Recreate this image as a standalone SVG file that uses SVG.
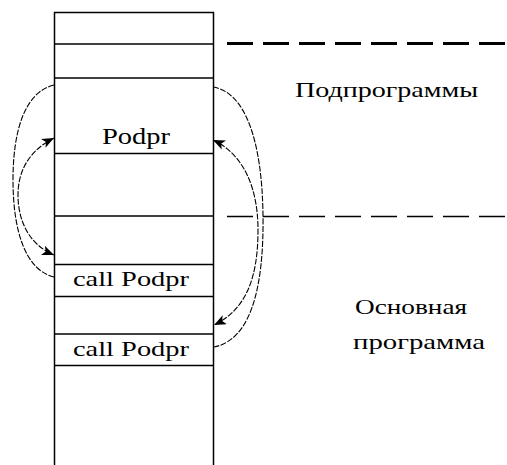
<svg xmlns="http://www.w3.org/2000/svg" width="507" height="465" viewBox="0 0 507 465">
<style>
.col{stroke:#000;stroke-width:1.5;fill:none}
.row{stroke:#000;stroke-width:1.5}
.t{font-family:'Liberation Serif','DejaVu Serif',serif;fill:#000}
.cur{fill:none;stroke:#000;stroke-width:1.1;stroke-dasharray:6 1.5}
.sep{fill:none;stroke:#000;stroke-dasharray:26 10}
</style>
<defs>
<marker id="ah" markerUnits="userSpaceOnUse" markerWidth="13" markerHeight="10" refX="12" refY="5" orient="auto-start-reverse">
<path d="M0,0 L12,5 L0,10 L3,5 z" fill="#000"/>
</marker>
</defs>
<g id="stack">
<path class="col" d="M54.5,465 V12.5 H213.5 V465"/>
<line class="row" x1="54" y1="44" x2="214" y2="44"/>
<line class="row" x1="54" y1="78" x2="214" y2="78"/>
<line class="row" x1="54" y1="153.5" x2="214" y2="153.5"/>
<line class="row" x1="54" y1="216" x2="214" y2="216"/>
<line class="row" x1="54" y1="264.5" x2="214" y2="264.5"/>
<line class="row" x1="54" y1="296.5" x2="214" y2="296.5"/>
<line class="row" x1="54" y1="334" x2="214" y2="334"/>
<line class="row" x1="54" y1="365.5" x2="214" y2="365.5"/>
</g>
<g id="podpr"><text class="t" font-family="Liberation Serif, serif" x="102" y="144" font-size="23" textLength="68" lengthAdjust="spacingAndGlyphs">Podpr</text></g>
<g id="call1"><text class="t" font-family="Liberation Serif, serif" x="73" y="286" font-size="22" textLength="116" lengthAdjust="spacingAndGlyphs">call Podpr</text></g>
<g id="call2"><text class="t" font-family="Liberation Serif, serif" x="73" y="356" font-size="22" textLength="116" lengthAdjust="spacingAndGlyphs">call Podpr</text></g>
<g id="separators">
<line class="sep" x1="227" y1="43.5" x2="507" y2="43.5" stroke-width="3"/>
<line class="sep" x1="227" y1="216.5" x2="507" y2="216.5" stroke-width="1.5" stroke="#444"/>
</g>
<g id="label-sub"><text class="t" font-family="Liberation Serif, serif" x="295" y="97" font-size="21" textLength="183" lengthAdjust="spacingAndGlyphs">Подпрограммы</text></g>
<g id="label-main">
<text class="t" font-family="Liberation Serif, serif" x="355" y="314" font-size="21" textLength="112" lengthAdjust="spacingAndGlyphs">Основная</text>
<text class="t" font-family="Liberation Serif, serif" x="353" y="349" font-size="22" textLength="132" lengthAdjust="spacingAndGlyphs">программа</text>
</g>
<g id="connectors">
<path class="cur" d="M54,85 C25,92 13,130 13,180 C13,230 25,270 54,277"/>
<path class="cur" d="M54,138 C30,150 18,170 18,195 C18,222 30,245 54,255" marker-start="url(#ah)" marker-end="url(#ah)"/>
<path class="cur" d="M213,87 C245,92 262,140 263,215 C264,290 250,340 214,347"/>
<path class="cur" d="M213,140 C245,155 258,190 258,230 C258,280 245,310 214,325" marker-start="url(#ah)" marker-end="url(#ah)"/>
</g>
</svg>
